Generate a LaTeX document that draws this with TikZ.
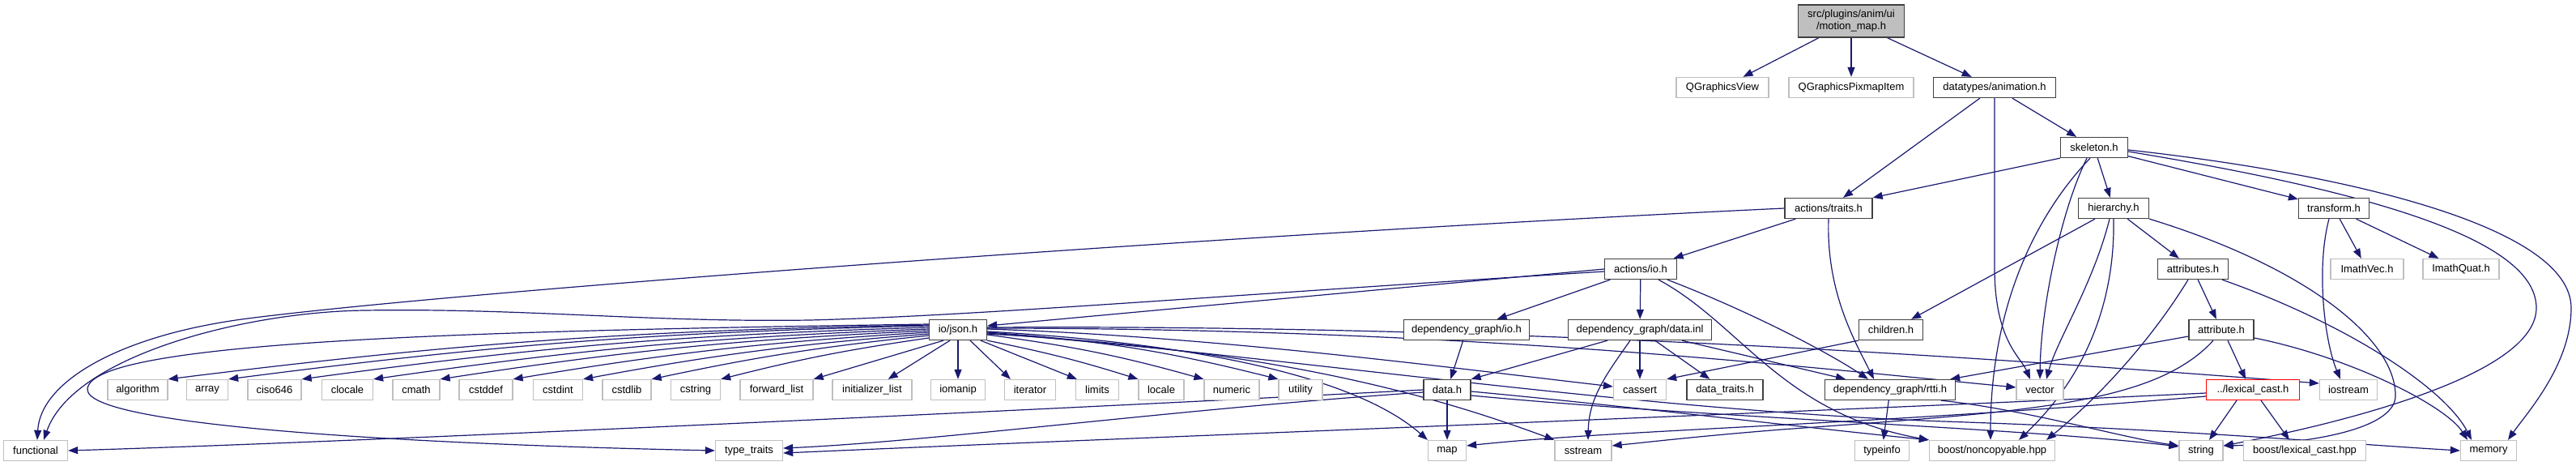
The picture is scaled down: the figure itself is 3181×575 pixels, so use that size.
\documentclass[tikz,border=0pt]{standalone}
\usepackage{fontspec}
\setmainfont{Liberation Sans}
\usetikzlibrary{arrows.meta}
\definecolor{navy}{HTML}{191970}
\definecolor{lgray}{HTML}{BFBFBF}
\definecolor{dgray}{HTML}{404040}
\pgfdeclarelayer{bg}
\pgfsetlayers{bg,main}
\begin{document}
\begin{tikzpicture}[x=1pt,y=-1pt,
  base/.style={rectangle,minimum height=25pt,inner sep=0pt,fill=white,line width=1.3pt,font=\fontsize{13}{15}\selectfont},
  doc/.style={base,draw=dgray},
  ext/.style={base,draw=lgray},
  red/.style={base,draw=red},
  e/.style={draw=navy,line width=1.2pt,-{Triangle[length=12pt,width=9pt]}}]
\useasboundingbox (0,0) rectangle (3181,575);
% rows
\node[doc,fill=lgray,minimum width=131pt,minimum height=40pt,align=center,font=\fontsize{13}{15}\selectfont] (motion) at (2286,26) {src/plugins/anim/ui\\/motion\_map.h};
\node[ext,minimum width=114pt] (qgv) at (2127,108) {QGraphicsView};
\node[ext,minimum width=154pt] (qgpi) at (2286,108) {QGraphicsPixmapItem};
\node[doc,minimum width=151pt] (anim) at (2463,108) {datatypes/animation.h};
\node[doc,minimum width=83pt] (skel) at (2586,182) {skeleton.h};
\node[doc,minimum width=108pt] (traits) at (2258,257) {actions/traits.h};
\node[doc,minimum width=87pt] (hier) at (2610,257) {hierarchy.h};
\node[doc,minimum width=87pt] (transf) at (2882,257) {transform.h};
\node[doc,minimum width=89pt] (aio) at (2026,332) {actions/io.h};
\node[doc,minimum width=87pt] (attrs) at (2708,332) {attributes.h};
\node[ext,minimum width=90pt] (ivec) at (2923,332) {ImathVec.h};
\node[ext,minimum width=94pt] (iquat) at (3039,332) {ImathQuat.h};
\node[doc,minimum width=71pt] (json) at (1183,407) {io/json.h};
\node[doc,minimum width=155pt] (dgio) at (1811,407) {dependency\_graph/io.h};
\node[doc,minimum width=177pt] (dinl) at (2025,407) {dependency\_graph/data.inl};
\node[doc,minimum width=79pt] (child) at (2335,407) {children.h};
\node[doc,minimum width=80pt] (attr) at (2743,407) {attribute.h};
% row 481
\node[ext,minimum width=74pt] (algorithm) at (170,481) {algorithm};
\node[ext,minimum width=51pt] (array) at (256,481) {array};
\node[ext,minimum width=66pt] (ciso) at (339,481) {ciso646};
\node[ext,minimum width=63pt] (clocale) at (429,481) {clocale};
\node[ext,minimum width=58pt] (cmath) at (514,481) {cmath};
\node[ext,minimum width=66pt] (cstddef) at (600,481) {cstddef};
\node[ext,minimum width=61pt] (cstdint) at (689,481) {cstdint};
\node[ext,minimum width=60pt] (cstdlib) at (774,481) {cstdlib};
\node[ext,minimum width=61pt] (cstring) at (859,481) {cstring};
\node[ext,minimum width=90pt] (fwd) at (959,481) {forward\_list};
\node[ext,minimum width=98pt] (initl) at (1077,481) {initializer\_list};
\node[ext,minimum width=67pt] (iomanip) at (1183,481) {iomanip};
\node[ext,minimum width=63pt] (iterator) at (1272,481) {iterator};
\node[ext,minimum width=53pt] (limits) at (1355,481) {limits};
\node[ext,minimum width=56pt] (locale) at (1434,481) {locale};
\node[ext,minimum width=68pt] (numeric) at (1521,481) {numeric};
\node[ext,minimum width=54pt] (utility) at (1606,481) {utility};
\node[doc,minimum width=58pt] (datah) at (1787,481) {data.h};
\node[ext,minimum width=65pt] (cassert) at (2025,481) {cassert};
\node[doc,minimum width=94pt] (dtraits) at (2130,481) {data\_traits.h};
\node[doc,minimum width=161pt] (rtti) at (2334,481) {dependency\_graph/rtti.h};
\node[ext,minimum width=58pt] (vector) at (2519,481) {vector};
\node[red,minimum width=115pt] (lexcast) at (2782,481) {../lexical\_cast.h};
\node[ext,minimum width=71pt] (iostream) at (2900,481) {iostream};
% row 556
\node[ext,minimum width=79pt] (functional) at (44,556) {functional};
\node[ext,minimum width=83pt] (typetraits) at (925,556) {type\_traits};
\node[ext,minimum width=47pt] (map) at (1787,556) {map};
\node[ext,minimum width=70pt] (sstream) at (1955,556) {sstream};
\node[ext,minimum width=67pt] (typeinfo) at (2324,556) {typeinfo};
\node[ext,minimum width=155pt] (noncop) at (2460,556) {boost/noncopyable.hpp};
\node[ext,minimum width=54pt] (string) at (2718,556) {string};
\node[ext,minimum width=151pt] (blex) at (2846,556) {boost/lexical\_cast.hpp};
\node[ext,minimum width=69pt] (memory) at (3073,556) {memory};

\begin{pgfonlayer}{bg}
\draw[e] (motion) -- (qgv);
\draw[e] (motion) -- (qgpi);
\draw[e] (motion) -- (anim);
\draw[e] (anim) -- (traits);
\draw[e] (anim) -- (skel);
\draw[e] (anim.south) -- (2463,330) .. controls (2463,420) and (2495,440) .. ([xshift=-12pt]vector.north);
\draw[e] (skel.south west) -- (traits.north east);
\draw[e] (skel) -- (hier);
\draw[e] (skel) -- (transf);
\draw[e] ([xshift=-9pt]skel.south) .. controls (2545,260) and (2520,380) .. (vector.north);
\draw[e] ([xshift=-5pt]skel.south) .. controls (2500,280) and (2458,400) .. ([xshift=-2pt]noncop.north);
\draw[e] ([yshift=-5pt]skel.east) .. controls (2950,240) and (3132,300) .. (3132,380) .. controls (3132,470) and (2850,530) .. ([yshift=6pt]string.east);
\draw[e] ([yshift=-3pt]skel.east) .. controls (2900,215) and (3175,280) .. (3175,380) .. controls (3175,450) and (3120,510) .. ([xshift=24pt]memory.north);
\draw[e] (traits) -- (aio);
\draw[e] (traits.south) .. controls (2255,360) and (2290,420) .. ([xshift=-20pt]rtti.north);
\draw[e] (traits.west) .. controls (1500,290) and (560,360) .. (306,393) .. controls (150,413) and (50,470) .. ([xshift=2pt]functional.north);
\draw[e] (aio.west) -- ([yshift=5pt]json.east);
\draw[e] ([yshift=-3pt]aio.west) .. controls (1500,365) and (1200,390) .. (1000,395) .. controls (800,398) and (650,380) .. (450,383) .. controls (300,385) and (90,440) .. ([xshift=10pt]functional.north);
\draw[e] (aio) -- (dgio);
\draw[e] (aio) -- (dinl);
\draw[e] ([xshift=33pt]aio.south) .. controls (2150,380) and (2250,430) .. ([xshift=-27pt]rtti.north);
\draw[e] ([xshift=22pt]aio.south) .. controls (2150,400) and (2200,510) .. (noncop.north west);
\draw[e] (dgio) -- (datah);
\draw[e] ([xshift=-40pt]dinl.south) -- (datah.north east);
\draw[e] ([xshift=-12pt]dinl.south) .. controls (1985,460) and (1962,490) .. ([xshift=6pt]sstream.north);
\draw[e] (dinl.south) -- (cassert.north);
\draw[e] (dinl) -- (dtraits);
\draw[e] ([xshift=52pt]dinl.south) -- ([xshift=-55pt]rtti.north);
\draw[e] (datah) -- (map);
\draw[e] (datah.west) .. controls (1300,505) and (450,545) .. (functional.east);
\draw[e] ([yshift=-3pt]datah.west) .. controls (1450,505) and (1150,545) .. ([yshift=3pt]typetraits.east);
\draw[e] ([yshift=-2pt]datah.east) .. controls (2000,500) and (2250,530) .. (noncop.north west);
\draw[e] ([yshift=-7pt]datah.east) .. controls (2100,515) and (2500,528) .. ([yshift=5pt]string.west);
\draw[e] (child.south west) -- (cassert.north east);
\draw[e] ([xshift=-23pt]hier.south) -- ([xshift=-15pt]child.north east);
\draw[e] (hier) -- (attrs);
\draw[e] ([xshift=-5pt]hier.south) .. controls (2585,350) and (2540,420) .. ([xshift=8pt]vector.north);
\draw[e] (hier.south) .. controls (2612,380) and (2570,470) .. ([xshift=33pt]noncop.north);
\draw[e] (hier.south east) .. controls (2850,330) and (2960,420) .. (2958,490) .. controls (2955,530) and (2850,548) .. ([yshift=6pt]string.east);
\draw[e] (attrs) -- (attr);
\draw[e] ([xshift=-6pt]attrs.south) .. controls (2650,430) and (2580,500) .. ([xshift=67pt]noncop.north);
\draw[e] ([xshift=36pt]attrs.south) .. controls (2900,400) and (3020,480) .. ([xshift=-21pt]memory.north);
\draw[e] ([xshift=8pt]attr.south) -- ([xshift=-9pt]lexcast.north);
\draw[e] ([yshift=-8pt]attr.west) -- ([xshift=-7pt]rtti.north east);
\draw[e] ([yshift=-10pt]attr.east) .. controls (2900,440) and (3020,500) .. ([xshift=-26pt]memory.north);
\draw[e] ([xshift=-10pt]attr.south) .. controls (2660,500) and (2500,508) .. (2200,530) .. controls (2100,538) and (2040,545) .. ([yshift=6pt]sstream.east);
\draw[e] ([xshift=-20pt]lexcast.south) -- ([xshift=10pt]string.north);
\draw[e] ([xshift=10pt]lexcast.south) -- ([xshift=-19pt]blex.north);
\draw[e] ([yshift=-4pt]lexcast.west) .. controls (2200,510) and (1400,540) .. ([yshift=-3pt]typetraits.east);
\draw[e] ([yshift=-8pt]lexcast.west) .. controls (2300,525) and (2000,530) .. ([yshift=6pt]map.east);
\draw[e] (rtti) -- (typeinfo);
\draw[e] ([xshift=63pt]rtti.south) .. controls (2500,505) and (2620,540) .. ([yshift=6pt]string.west);
\draw[e] (transf) -- (ivec);
\draw[e] (transf) -- (iquat);
\draw[e] ([xshift=-6pt]transf.south) .. controls (2860,330) and (2870,420) .. ([xshift=-10pt]iostream.north);
% json fan
\foreach \n/\s in {algorithm/6,array/5,ciso/3,clocale/1,cmath/-1,cstddef/-3,cstdint/-5,cstdlib/-7,cstring/-10}
  \draw[e] ([yshift=\s pt]json.west) to[bend right=3] (\n.north east);
\draw[e] ([xshift=-18pt]json.south) -- (fwd.north east);
\draw[e] ([xshift=-10pt]json.south) -- ([xshift=-30pt]initl.north east);
\draw[e] (json.south) -- (iomanip.north);
\draw[e] ([xshift=15pt]json.south) -- ([xshift=8pt]iterator.north west);
\draw[e] ([xshift=28pt]json.south) -- ([xshift=2pt]limits.north west);
\draw[e] (json.south east) to[bend left=3] (locale.north west);
\draw[e] ([yshift=-6pt]json.east) to[bend left=4] (numeric.north west);
\draw[e] ([yshift=-3pt]json.east) to[bend left=5] (utility.north west);
\draw[e] ([yshift=1pt]json.east) .. controls (1500,415) and (1800,455) .. ([yshift=4pt]cassert.west);
\draw[e] ([yshift=2pt]json.east) .. controls (1800,405) and (2200,450) .. ([yshift=3pt]vector.west);
\draw[e] ([yshift=3pt]json.east) .. controls (1900,400) and (2500,445) .. ([yshift=8pt]iostream.west);
\draw[e] ([yshift=-4pt]json.east) .. controls (1600,440) and (2000,505) .. (2400,520) .. controls (2700,530) and (2900,548) .. (memory.west);
\draw[e] ([yshift=-2pt]json.east) .. controls (1500,425) and (1680,470) .. (map.north west);
\draw[e] ([yshift=-5pt]json.east) .. controls (1550,430) and (1750,480) .. (sstream.north west);
\draw[e] ([yshift=7pt]json.west) .. controls (600,408) and (112,420) .. (108,480) .. controls (105,525) and (500,548) .. (typetraits.west);
\end{pgfonlayer}
\end{tikzpicture}
\end{document}
